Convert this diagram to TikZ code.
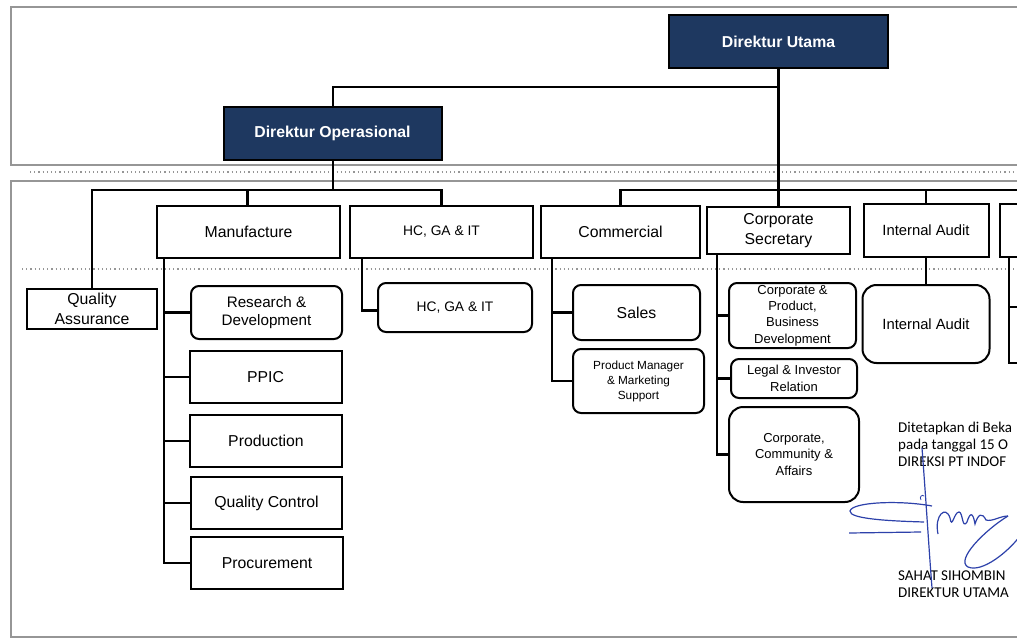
\documentclass[tikz,border=0pt]{standalone}
\usepackage{fontspec}
\setmainfont{Liberation Sans}
\newfontfamily\sigfont{Carlito}
\definecolor{navy}{RGB}{30,56,96}
\definecolor{framegray}{RGB}{150,150,150}
\definecolor{inkblue}{RGB}{45,65,170}
\begin{document}
\begin{tikzpicture}[x=1pt,y=-1pt,
  unit/.style={draw=black, line width=2pt, inner sep=1pt, align=center,
    font=\fontsize{15.8}{19.5}\selectfont},
  rbox/.style={unit, rounded corners=8pt},
  dirbox/.style={draw=black, line width=2pt, fill=navy, text=white, align=center,
    font=\bfseries\fontsize{15.8}{19}\selectfont},
  small/.style={font=\fontsize{13}{16.3}\selectfont},
  smaller/.style={font=\fontsize{11.8}{15}\selectfont},
  conn/.style={draw=black, line width=2.2pt},
  panel/.style={draw=framegray, line width=1.2pt},
  dotline/.style={draw=framegray, line width=1.2pt, dash pattern=on 1.2pt off 3pt},
  sig/.style={font=\sigfont\fontsize{15}{17}\selectfont, anchor=base west, inner sep=0pt},
  ink/.style={draw=inkblue, line width=1.2pt}
]
\useasboundingbox (0,0) rectangle (1017,639);
\clip (0,0) rectangle (1017,639);
\fill[white] (0,0) rectangle (1017,639);

% panels and dotted separators
\draw[panel] (11,7) rectangle (1040,165);
\draw[panel] (11,181) rectangle (1040,637);
\draw[dotline] (30,172) -- (1017,172);
\draw[dotline] (22,269) -- (1017,269);

% directors
\node[dirbox, minimum width=219pt, minimum height=53pt] (DU) at (778.5,41.5) {Direktur Utama};
\node[dirbox, minimum width=218pt, minimum height=53pt] (DO) at (332.5,133.5) {Direktur Operasional};

% level 2
\node[unit, minimum width=183pt, minimum height=52pt] (MF) at (248.5,232) {Manufacture};
\node[unit, minimum width=183pt, minimum height=52pt, font=\fontsize{13.8}{17}\selectfont] (HC) at (441.5,232) {HC, GA \& IT};
\node[unit, minimum width=159pt, minimum height=52pt] (CM) at (620.5,232) {Commercial};
\node[unit, minimum width=143pt, minimum height=47pt] (CS) at (778.5,230.5) {Corporate\\Secretary};
\node[unit, minimum width=125pt, minimum height=53pt, font=\fontsize{14.8}{18}\selectfont] (IA) at (926,230.5) {Internal Audit};
\node[unit, minimum width=40pt, minimum height=53pt] (RB) at (1020,230.5) {};

% level 3
\node[unit, minimum width=130pt, minimum height=40pt] (QA) at (92,309) {Quality\\Assurance};
\node[rbox, minimum width=151pt, minimum height=53pt, font=\fontsize{15.2}{18.5}\selectfont] (RD) at (266.5,312.5) {Research \&\\Development};
\node[unit, minimum width=152pt, minimum height=52pt] (PP) at (265.5,377) {PPIC};
\node[unit, minimum width=152pt, minimum height=52pt] (PR) at (266,441) {Production};
\node[unit, minimum width=151pt, minimum height=52pt] (QC) at (266.5,503) {Quality Control};
\node[unit, minimum width=152pt, minimum height=52pt] (PC) at (267,563) {Procurement};

\node[rbox, minimum width=154pt, minimum height=49pt, font=\fontsize{13.8}{17}\selectfont] (HC2) at (455,307.5) {HC, GA \& IT};

\node[rbox, minimum width=127pt, minimum height=55pt] (SL) at (636.5,312.5) {Sales};
\node[rbox, smaller, minimum width=131pt, minimum height=64pt] (PM) at (638.5,381) {Product Manager\\\& Marketing\\Support};

\node[rbox, small, minimum width=127pt, minimum height=65pt] (CP) at (792.5,315.5) {Corporate \&\\Product,\\Business\\Development};
\node[rbox, small, minimum width=126pt, minimum height=39pt] (LI) at (794,378.5) {Legal \& Investor\\Relation};
\node[rbox, small, rounded corners=14pt, minimum width=130pt, minimum height=95pt] (CC) at (794,454.5) {Corporate,\\Community \&\\Affairs};

\node[rbox, rounded corners=14pt, minimum width=127pt, minimum height=78pt, font=\fontsize{14.8}{18}\selectfont] (IA2) at (926,324) {Internal Audit};

% connectors: top level
\coordinate (busL) at (92,190);
\coordinate (busR) at (1040,190);
\coordinate (elbow) at (333,87);
\draw[conn] (DU.south) -- (DU.south |- busR);
\draw[conn] (DO.north -| elbow) -- (elbow) -- (elbow -| DU.south);
\draw[conn] (DO.south -| elbow) -- (elbow |- busL);
\draw[conn] (QA.north) -- (QA.north |- busL) -- (HC.north |- busL) -- (HC.north);
\draw[conn] ([xshift=-1pt]MF.north) -- ([xshift=-1pt]MF.north |- busL);
\draw[conn] (CM.north) -- (CM.north |- busR) -- (busR);
\draw[conn] (CS.north) -- (CS.north |- busR);
\draw[conn] (IA.north) -- (IA.north |- busR);
\draw[conn] (RB.north) -- (RB.north |- busR);

% Manufacture children
\coordinate (ms) at ([xshift=8pt]MF.south west);
\draw[conn] (ms) |- (PC.west);
\foreach \n in {RD,PP,PR,QC} \draw[conn] (\n.west) -- (\n.west -| ms);

% HC child
\coordinate (hs) at ([xshift=13pt]HC.south west);
\draw[conn] (hs) |- ([yshift=-3pt]HC2.west);

% Commercial children
\coordinate (cs) at ([xshift=12pt]CM.south west);
\draw[conn] (cs) |- (PM.west);
\draw[conn] (SL.west) -- (SL.west -| cs);

% Corporate Secretary children
\coordinate (ss) at ([xshift=11pt]CS.south west);
\draw[conn] (ss) |- (CC.west);
\foreach \n in {CP,LI} \draw[conn] (\n.west) -- (\n.west -| ss);

% Internal Audit child
\draw[conn] (IA.south) -- (IA2.north);

% cut-off right branch
\coordinate (rs) at ([xshift=10pt]RB.south west);
\coordinate (rc1) at (1040,307);
\coordinate (rc2) at (1040,363);
\draw[conn] (rs) |- (rc2);
\draw[conn] (rc1) -- (rc1 -| rs);

% signature block (cut at the page edge as in the reference)
\node[sig] (t1) at (898,432) {Ditetapkan di Beka};
\node[sig] (t2) at (898,449) {pada tanggal 15 O};
\node[sig] (t3) at (898,466) {DIREKSI PT INDOF};
\node[sig] (t4) at (898,580) {SAHAT SIHOMBIN};
\node[sig] (t5) at (898,597) {DIREKTUR UTAMA};

% ink signature
\draw[ink] (922,448) .. controls (926,500) and (929,550) .. (932,588);
\draw[ink] (932,506) .. controls (900,500) and (852,502) .. (850,511) .. controls (849,519) and (890,521) .. (924,522);
\draw[ink] (849,533) -- (921,532);
\draw[ink] (938,534) .. controls (934,515) and (946,505) .. (950,518) .. controls (952,530) and (954,512) .. (959,512)
  .. controls (963,512) and (962,530) .. (967,522) .. controls (970,512) and (973,512) .. (975,524)
  .. controls (978,514) and (982,512) .. (986,520) .. controls (992,522) and (1000,516) .. (1008,516);
\draw[ink] (1008,516) .. controls (985,530) and (955,560) .. (968,567) .. controls (982,573) and (1008,552) .. (1020,536);
\draw[ink, line width=0.8pt] (921,500) .. controls (919,497) and (922,494) .. (924,496);
\end{tikzpicture}
\end{document}
